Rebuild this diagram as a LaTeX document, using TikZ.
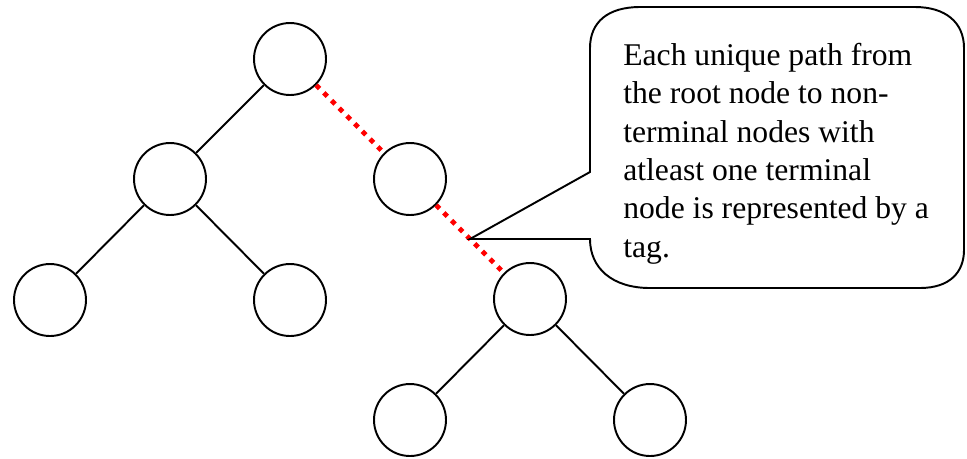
\documentclass[tikz,border=0pt]{standalone}
\usepackage{fontspec}
\setmainfont{Liberation Serif}
\usepackage{tikz}
\usetikzlibrary{calc}
\definecolor{tagred}{RGB}{255, 0, 0}

\begin{document}
\begin{tikzpicture}[x=0.02cm, y=-0.02cm,
    vertex/.style={circle, draw, line width=1.1pt, minimum size=1.44cm, inner sep=0pt},
    edge/.style={line width=1.1pt},
    tagpath/.style={draw=tagred, line width=2.8pt, dash pattern=on 2.8pt off 3.4pt}, % caminho da tag
    callout/.style={line width=1.1pt, line join=miter}]
  \useasboundingbox (0,0) rectangle (967,458);

  % arvore
  \node[vertex] (root) at (290,59) {};
  \node[vertex] (l) at (170,179) {};
  \node[vertex] (r) at (410,179) {};
  \node[vertex] (ll) at (50,300) {};
  \node[vertex] (lr) at (290,300) {};
  \node[vertex] (rr) at (530,299) {};
  \node[vertex] (rrl) at (410,420) {};
  \node[vertex] (rrr) at (650,420) {};

  \draw[edge] (root) -- (l);
  \draw[edge] (l) -- (ll);
  \draw[edge] (l) -- (lr);
  \draw[edge] (rr) -- (rrl);
  \draw[edge] (rr) -- (rrr);
  \draw[tagpath] (root) -- (r);
  \draw[tagpath] (r) -- (rr);

  % balao
  \coordinate (tip) at ($(r)!0.5!(rr)$);
  \draw[callout] (tip) -- (590,172) -- (590,48)
    .. controls (590,22) and (608,7) .. (640,7) -- (915,7)
    .. controls (945,7) and (964,22) .. (964,48) -- (964,250)
    .. controls (964,272) and (950,288) .. (920,288) -- (650,288)
    .. controls (612,288) and (590,268) .. (590,239) -- cycle;
  \node[anchor=base west, align=left, inner sep=0pt,
        font=\fontsize{18}{21.8}\selectfont] (note) at (623,257)
    {Each unique path from\\the root node to non-\\terminal nodes with\\atleast one terminal\\node is represented by a\\tag.};
\end{tikzpicture}
\end{document}
